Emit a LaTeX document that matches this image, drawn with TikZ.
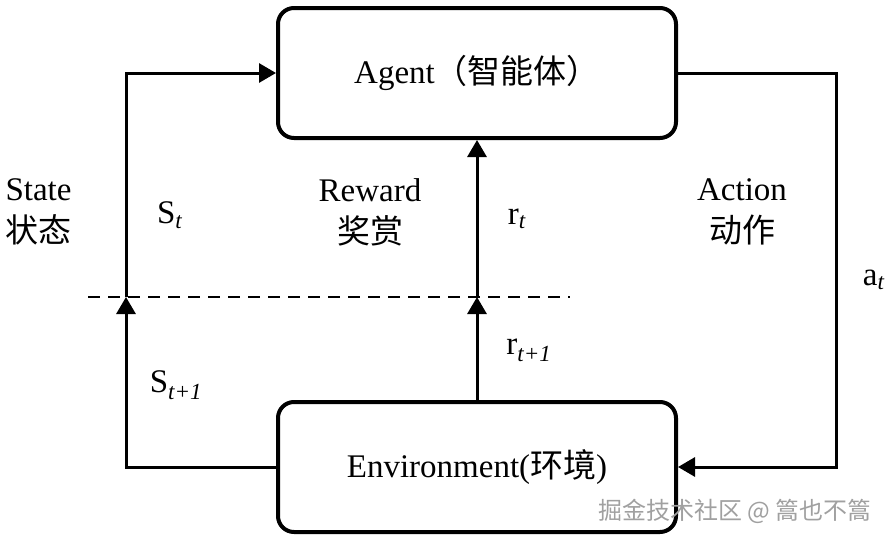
\documentclass[tikz,border=0pt]{standalone}
\usepackage{fontspec}
\setmainfont{Liberation Serif}
\newfontfamily\cjk{Noto Sans CJK SC}
\usetikzlibrary{arrows.meta}

\definecolor{rlblack}{RGB}{0,0,0}
\definecolor{rlmark}{RGB}{160,160,160}

\begin{document}
\begin{tikzpicture}[x=1pt,y=-1pt,font=\fontsize{33}{42}\selectfont,
    >={Triangle[length=17pt,width=19pt]},
    box/.style={draw=rlblack,line width=4pt,rounded corners=16pt,
      minimum width=398pt,minimum height=130pt,inner sep=0pt},
    link/.style={->,draw=rlblack,line width=3pt}]
    \useasboundingbox (0,0) rectangle (895,541);
    \node[box] (agent) at (477,73) {Agent{\cjk （智能体）}};
    \node[box] (env) at (477,467) {Environment({\cjk 环境})};
    \coordinate (smid) at (126,297);
    \coordinate (rmid) at (env.north |- smid);
    \coordinate (dstart) at (88,297);
    \coordinate (dend) at (570,297);
    \draw[rlblack,line width=2pt,dash pattern=on 12pt off 8pt] (dstart)--(dend);
    \draw[link] (env.west) -| (smid);
    \draw[link] (smid) |- (agent.west);
    \draw[link] (env.north)--(rmid);
    \draw[link] (rmid)--(agent.south);
    \draw[link] (agent.east) -- ++(158,0) |- (env.east);
    \node[anchor=west,align=left] (state) at (2,212) {State\\{\cjk 状态}};
    \node[align=center] (reward) at (370,212) {Reward\\{\cjk 奖赏}};
    \node[align=center] (action) at (742,212) {Action\\{\cjk 动作}};
    \node (st) at (170,215) {S\textsubscript{\textit{t}}};
    \node (stn) at (176,385) {S\textsubscript{\textit{t+1}}};
    \node (rt) at (517,219) {r\textsubscript{\textit{t}}};
    \node (rtn) at (529,350) {r\textsubscript{\textit{t+1}}};
    \node (at) at (874,280) {a\textsubscript{\textit{t}}};
    \node[text=rlmark,font=\cjk\fontsize{24}{24}\selectfont] (mark)
      at (735,511) {掘金技术社区 @ 篙也不篙};
  \end{tikzpicture}
\end{document}
